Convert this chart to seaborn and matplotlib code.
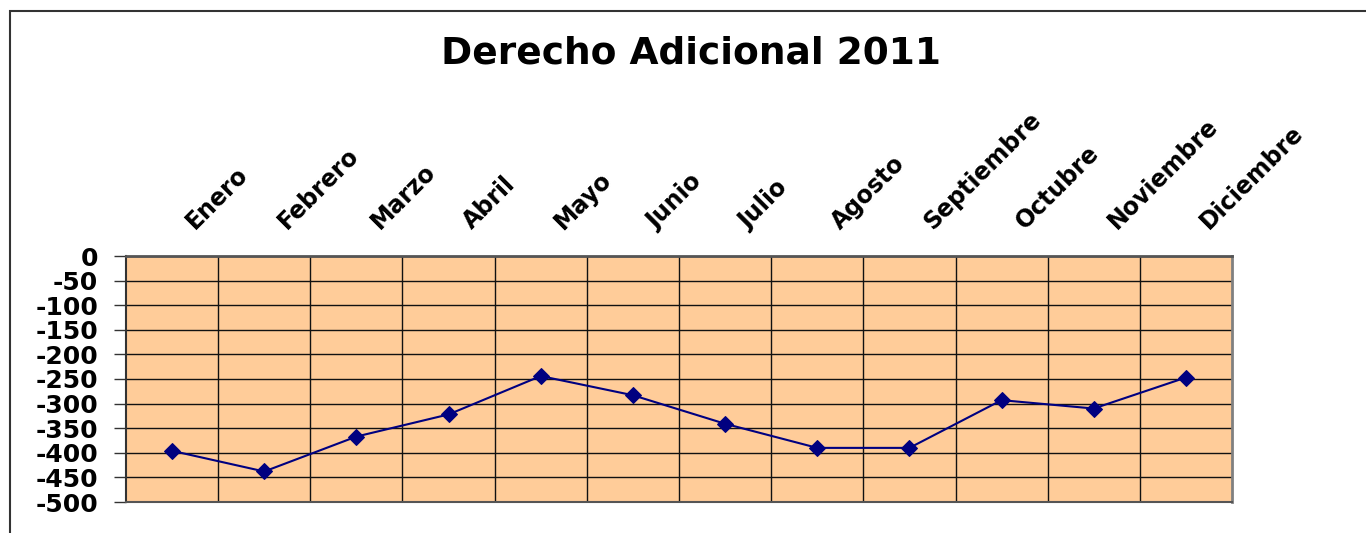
import numpy as np
import pandas as pd
import seaborn as sns
import matplotlib.pyplot as plt
from matplotlib.patches import Rectangle
from matplotlib.ticker import FixedLocator
from matplotlib.transforms import ScaledTranslation

months = ['Enero', 'Febrero', 'Marzo', 'Abril', 'Mayo', 'Junio', 'Julio',
          'Agosto', 'Septiembre', 'Octubre', 'Noviembre', 'Diciembre']
values = [-396, -438, -367, -322, -244, -283, -341, -390, -390, -293, -310, -247]
yticks = list(range(0, -550, -50))

sns.set_style('white')
plt.rcParams['font.family'] = ['DejaVu Sans']

df = pd.DataFrame({'mes': months, 'valor': values})

fig = plt.figure(figsize=(13.66, 5.33), dpi=100)
ax = fig.add_axes([126 / 1366, 1 - 502 / 533, (1232 - 126) / 1366, (502 - 256) / 533])
ax.set_facecolor('#FFCC99')

pos = np.arange(len(months))
sns.lineplot(x=pos, y=df['valor'], ax=ax, color='#000080', lw=1.5,
             marker='D', markersize=8, markeredgecolor='#000080')

ax.set_xlim(-0.5, len(months) - 0.5)
ax.set_ylim(-500, 0)
ax.set_yticks(yticks)
ax.set_yticklabels([str(v) for v in yticks], fontsize=18, fontweight='bold', color='black')
ax.tick_params(axis='y', direction='out', length=9, width=1, color='#333333', pad=11, left=True)

ax.xaxis.tick_top()
ax.set_xticks(pos)
ax.set_xticklabels(months, rotation=45, ha='left', va='center', rotation_mode='anchor',
                   fontsize=17, fontweight='bold', color='black')
ax.tick_params(axis='x', length=0, pad=22)
shift = ScaledTranslation(13 / 72, 0, fig.dpi_scale_trans)
for lab in ax.get_xticklabels():
    lab.set_transform(lab.get_transform() + shift)
ax.xaxis.set_minor_locator(FixedLocator(np.arange(0.5, len(months) - 0.5, 1)))
ax.tick_params(axis='x', which='minor', length=0)

ax.grid(axis='y', which='major', color='#111111', lw=1)
ax.grid(axis='x', which='minor', color='#111111', lw=1)
ax.set_axisbelow(True)
ax.set_xlabel('')
ax.set_ylabel('')

ax.spines['left'].set_color('#333333')
ax.spines['left'].set_linewidth(1.5)
ax.spines['top'].set_color('#555555')
ax.spines['top'].set_linewidth(2)
ax.spines['right'].set_color('#808080')
ax.spines['right'].set_linewidth(2)
ax.spines['bottom'].set_color('#555555')
ax.spines['bottom'].set_linewidth(1.5)

fig.text(691 / 1366, 1 - 53 / 533, 'Derecho Adicional 2011', ha='center', va='center',
         fontsize=27, fontweight='bold', color='black')

fig.patches.append(Rectangle((10 / 1366, -0.05), 1.1, 1 - 11 / 533 + 0.05,
                             transform=fig.transFigure, fill=False,
                             edgecolor='#333333', lw=1.5))

fig.savefig('out.png', dpi=100)
